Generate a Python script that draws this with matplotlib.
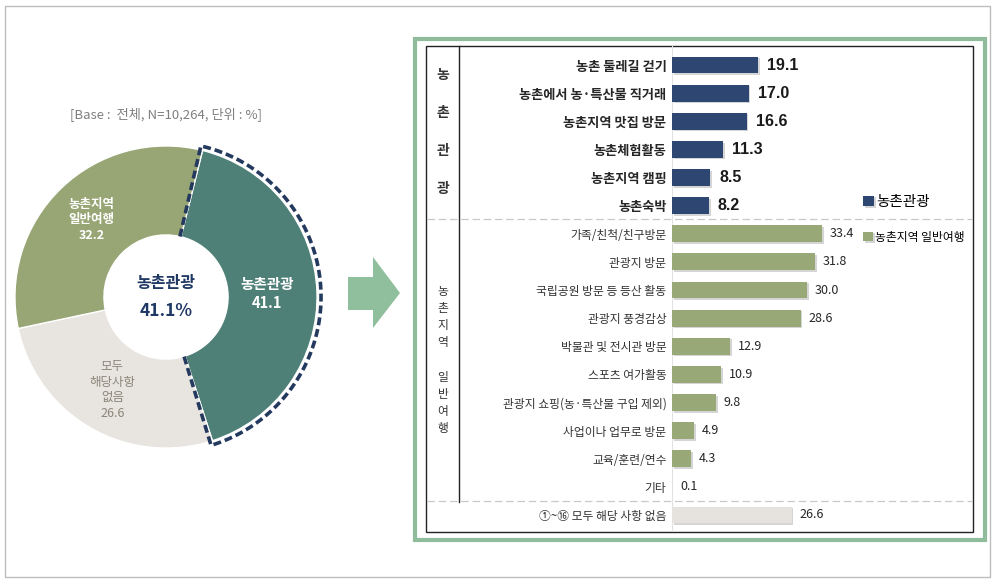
import numpy as np
import matplotlib
matplotlib.use("Agg")
import matplotlib.pyplot as plt
from matplotlib import patheffects
from matplotlib.patches import Rectangle, Polygon

plt.rcParams['font.family'] = ['Noto Sans CJK KR', 'DejaVu Sans']

# donut: share of respondents by trip type
share_labels = ['농촌관광', '모두\n해당사항\n없음', '농촌지역\n일반여행']
share_values = [41.1, 26.6, 32.2]
share_colors = ['#4F8078', '#E8E5E0', '#98A575']

# bars: activities
rural_items = ['농촌 둘레길 걷기', '농촌에서 농·특산물 직거래', '농촌지역 맛집 방문',
               '농촌체험활동', '농촌지역 캠핑', '농촌숙박']
rural_values = [19.1, 17.0, 16.6, 11.3, 8.5, 8.2]
general_items = ['가족/친척/친구방문', '관광지 방문', '국립공원 방문 등 등산 활동',
                 '관광지 풍경감상', '박물관 및 전시관 방문', '스포츠 여가활동',
                 '관광지 쇼핑(농·특산물 구입 제외)', '사업이나 업무로 방문',
                 '교육/훈련/연수', '기타']
general_values = [33.4, 31.8, 30.0, 28.6, 12.9, 10.9, 9.8, 4.9, 4.3, 0.1]
none_item = '①~⑯ 모두 해당 사항 없음'
none_value = 26.6

NAVY = '#2D4772'
GREEN = '#99A877'
GRAY_BAR = '#E6E3DF'
FRAME_GREEN = '#8FBC9B'

W, H = 996, 582
fig = plt.figure(figsize=(W / 100, H / 100), dpi=100)


def fig_box(left, top, width, height):
    return [left / W, 1 - (top + height) / H, width / W, height / H]


# background / decorations in pixel coordinates
bg = fig.add_axes([0, 0, 1, 1], zorder=0)
bg.set_xlim(0, W)
bg.set_ylim(H, 0)
bg.axis('off')
bg.add_patch(Rectangle((5, 6), 985, 571, fill=False, edgecolor='#BDBDBD', lw=1))
bg.add_patch(Rectangle((415, 39), 570, 501, fill=False, edgecolor=FRAME_GREEN, lw=3))
bg.add_patch(Rectangle((426, 46), 547, 486, fill=False, edgecolor='#222222', lw=1))
bg.plot([459, 459], [46, 502], color='#222222', lw=1)
for yy in (219, 501):
    bg.plot([427, 972], [yy, yy], color='#C8C8C8', lw=0.9, dashes=(6, 3))
bg.add_patch(Polygon([(348, 277), (373, 277), (373, 257), (400, 293),
                      (373, 328), (373, 310), (348, 310)],
                     closed=True, facecolor='#8FBF9C', edgecolor='none'))
bg.text(166, 114, '[Base :  전체, N=10,264, 단위 : %]', ha='center', va='center',
        fontsize=9.5, color='#7F7F7F')
bg.text(443, 132, '\n'.join('농촌관광'), ha='center', va='center', fontsize=10,
        color='#333333', linespacing=3.2, fontweight='bold')
bg.text(443, 360, '농\n촌\n지\n역\n\n일\n반\n여\n행', ha='center', va='center',
        fontsize=8.5, color='#333333', linespacing=1.42)

# donut
ax_pie = fig.add_axes(fig_box(6, 137, 320, 320), zorder=1)
R = 0.944
ring = 0.556
wedges, _ = ax_pie.pie(share_values, colors=share_colors, radius=R, startangle=76,
                       counterclock=False,
                       wedgeprops=dict(width=ring, edgecolor='white', linewidth=1))
ax_pie.set_xlim(-1, 1)
ax_pie.set_ylim(-1, 1)
ax_pie.set_aspect('equal')
ax_pie.axis('off')

label_r = [0.63, 0.67, 0.67]
label_style = [dict(color='white', fontweight='bold', fontsize=10.5),
               dict(color='#8A867A', fontsize=9),
               dict(color='white', fontweight='bold', fontsize=9)]
for w, lab, val, r, st in zip(wedges, share_labels, share_values, label_r, label_style):
    mid = np.radians((w.theta1 + w.theta2) / 2)
    ax_pie.text(r * np.cos(mid), r * np.sin(mid), f'{lab}\n{val:.1f}', ha='center',
                va='center', linespacing=1.25, **st)

# dashed outline around the rural tourism wedge
t_lo, t_hi = sorted((wedges[0].theta1, wedges[0].theta2))
r_in = R - ring
r_out = R + 0.025
arc = np.radians(np.linspace(t_hi + 1, t_lo - 1, 90))
xs = np.concatenate([[r_in * np.cos(arc[0])], r_out * np.cos(arc), [r_in * np.cos(arc[-1])]])
ys = np.concatenate([[r_in * np.sin(arc[0])], r_out * np.sin(arc), [r_in * np.sin(arc[-1])]])
ax_pie.plot(xs, ys, color='#24395E', lw=2.6, dashes=(2.2, 1.1), solid_capstyle='butt')

ax_pie.text(0, 0.09, '농촌관광', ha='center', va='center', fontsize=11.5,
            fontweight='bold', color='#1F3864')
ax_pie.text(0, -0.09, '41.1%', ha='center', va='center', fontsize=12.5,
            fontweight='bold', color='#1F3864')

# bars
ax = fig.add_axes(fig_box(672, 46, 300, 486), zorder=1)
items = rural_items + general_items + [none_item]
values = rural_values + general_values + [none_value]
colors = [NAVY] * len(rural_items) + [GREEN] * len(general_items) + [GRAY_BAR]
pos = np.arange(len(items))
shadow = [patheffects.SimplePatchShadow(offset=(1.2, -1.2), shadow_rgbFace='#888888', alpha=0.35),
          patheffects.Normal()]
bars = ax.barh(pos, values, height=0.6, color=colors, path_effects=shadow)
nav_handle = bars[0]
grn_handle = bars[len(rural_items)]
ax.set_xlim(0, 300 / 4.5)
ax.set_ylim((532 - 65) / 28.125, (46 - 65) / 28.125)
ax.set_yticks(pos, items)
ax.set_xticks([])
ax.tick_params(axis='y', length=0, pad=4)
for sp in ax.spines.values():
    sp.set_visible(False)
ax.axvline(0, color='#E2E2E2', lw=0.8, zorder=0)
ax.patch.set_alpha(0)

for i, tl in enumerate(ax.get_yticklabels()):
    if i < len(rural_items):
        tl.set_fontsize(9.5)
        tl.set_fontweight('bold')
        tl.set_color('#262626')
    else:
        tl.set_fontsize(8.5)
        tl.set_color('#333333')

for i, v in enumerate(values):
    if i < len(rural_items):
        st = dict(fontsize=11.5, fontweight='bold', color='#1A1A1A',
                  family=['Liberation Sans Narrow', 'Liberation Sans'])
        off = 6.5
    else:
        st = dict(fontsize=9, color='#262626')
        off = 5.5
    ax.annotate(f'{v:.1f}', xy=(v, pos[i]), xytext=(off, 0), textcoords='offset points',
                va='center', ha='left', **st)

leg1 = ax.legend([nav_handle], ['농촌관광'], loc='center left', frameon=False,
                 bbox_to_anchor=(863 / W, 1 - 202 / H), bbox_transform=fig.transFigure,
                 handlelength=0.75, handleheight=0.75, handletextpad=0.15,
                 borderpad=0, borderaxespad=0, prop=dict(size=10.5))
ax.add_artist(leg1)
ax.legend([grn_handle], ['농촌지역 일반여행'], loc='center left', frameon=False,
          bbox_to_anchor=(863 / W, 1 - 237 / H), bbox_transform=fig.transFigure,
          handlelength=0.85, handleheight=0.85, handletextpad=0.15,
          borderpad=0, borderaxespad=0, prop=dict(size=8.5))

fig.savefig('out.png', dpi=100, facecolor='white')
